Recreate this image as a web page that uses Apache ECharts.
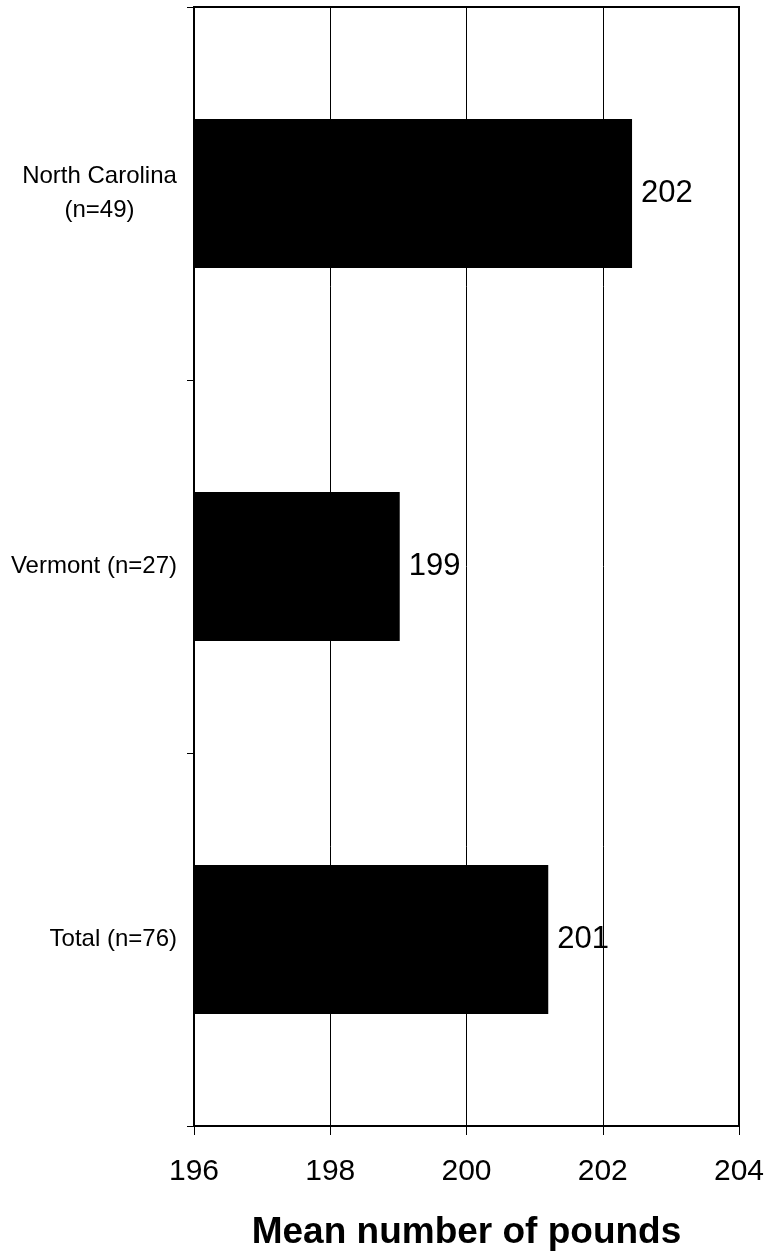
<!DOCTYPE html>
<html><head><meta charset="utf-8">
<script src="https://cdn.jsdelivr.net/npm/echarts@6/dist/echarts.min.js"></script>
<style>html,body{margin:0;padding:0;background:#fff}#c{width:765px;height:1256px}</style>
</head><body><div id="c"></div>
<script>
const categories = ['North Carolina\n(n=49)', 'Vermont (n=27)', 'Total (n=76)'];
const values = [202.43, 199.02, 201.2];
const valueLabels = ['202', '199', '201'];
const xTicks = [196, 198, 200, 202, 204];
const axisTitle = 'Mean number of pounds';

const FONT = '"Liberation Sans", Arial, sans-serif';
const chart = echarts.init(document.getElementById('c'), null, {renderer: 'canvas'});
chart.setOption({
  animation: false,
  backgroundColor: '#fff',
  grid: {left: 194, right: 26, top: 7, bottom: 130, show: true, borderColor: '#000', borderWidth: 2,
         backgroundColor: 'transparent', containLabel: false, outerBoundsMode: 'none'},
  xAxis: {
    type: 'value', min: xTicks[0], max: xTicks[xTicks.length - 1], interval: 2,
    axisLine: {show: true, lineStyle: {color: '#000', width: 2}},
    axisTick: {show: true, length: 9, lineStyle: {color: '#000', width: 1}},
    splitLine: {show: true, lineStyle: {color: '#000', width: 1}},
    axisLabel: {color: '#000', fontFamily: FONT, fontSize: 30, margin: 31},
    name: axisTitle, nameLocation: 'middle', nameGap: 88,
    nameTextStyle: {color: '#000', fontFamily: FONT, fontSize: 37, fontWeight: 'bold'}
  },
  yAxis: {
    type: 'category', data: categories, inverse: true,
    axisLine: {show: true, lineStyle: {color: '#000', width: 2}},
    axisTick: {show: true, length: 7, lineStyle: {color: '#000', width: 1}},
    axisLabel: {
      color: '#000', fontFamily: FONT, fontSize: 24, margin: 17, lineHeight: 34,
      formatter: function (v) {
        if (v.indexOf('\n') >= 0) {
          return v.split('\n').map(function (s) { return '{c|' + s + '}'; }).join('\n');
        }
        return v;
      },
      rich: {c: {width: 155, align: 'center', fontSize: 24, fontFamily: FONT, color: '#000', lineHeight: 34}}
    }
  },
  series: [{
    type: 'bar', data: values, barWidth: '40%',
    itemStyle: {color: '#000'},
    label: {
      show: true, position: 'right', distance: 9, color: '#000',
      fontFamily: FONT, fontSize: 31,
      formatter: function (p) { return valueLabels[p.dataIndex]; }
    }
  }]
});
</script></body></html>
